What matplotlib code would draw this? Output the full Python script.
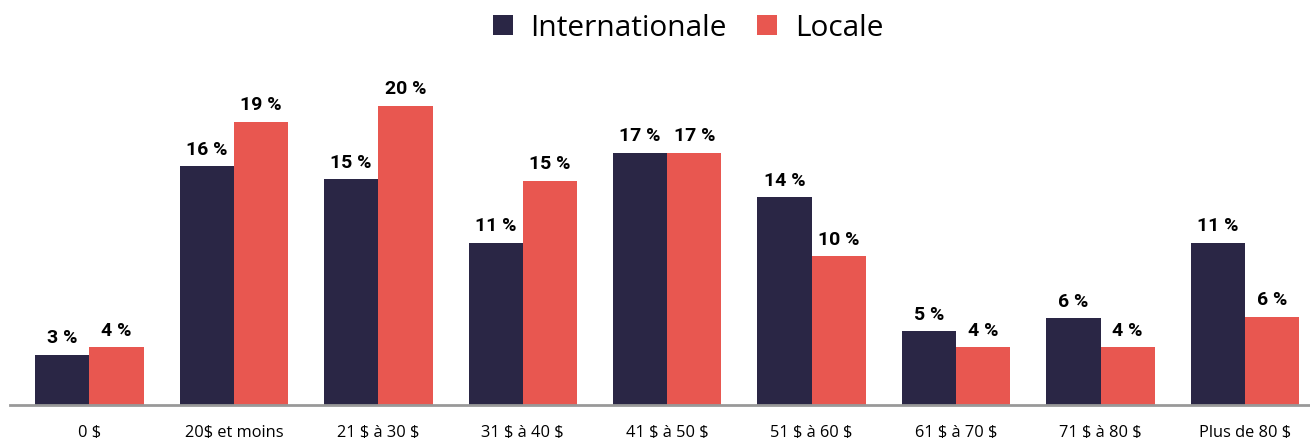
import matplotlib.pyplot as plt
import numpy as np

categories = ["0 \\$", "20\\$ et moins", "21 \\$ à 30 \\$", "31 \\$ à 40 \\$", "41 \\$ à 50 \\$",
              "51 \\$ à 60 \\$", "61 \\$ à 70 \\$", "71 \\$ à 80 \\$", "Plus de 80 \\$"]
internationale = [3.4, 16.2, 15.3, 11.0, 17.1, 14.1, 5.0, 5.9, 11.0]
locale = [3.9, 19.2, 20.3, 15.2, 17.1, 10.1, 3.9, 3.9, 6.0]

dark = "#2a2645"
red = "#e85750"
plt.rcParams['font.family'] = ['Open Sans', 'DejaVu Sans']

fig = plt.figure(figsize=(13.1, 4.38), dpi=100)
ax = fig.add_axes([10 / 1310, 33 / 438, 1300 / 1310, 345 / 438])

x = np.arange(len(categories))
w = 0.375
b1 = ax.bar(x - w / 2, internationale, w, color=dark, label="Internationale")
b2 = ax.bar(x + w / 2, locale, w, color=red, label="Locale")

for bars, vals in ((b1, internationale), (b2, locale)):
    for rect, v in zip(bars, vals):
        ax.text(rect.get_x() + rect.get_width() / 2, v + 0.5, f"{v:.0f} %",
                ha="center", va="bottom", fontsize=14, fontweight="bold",
                family=["Roboto", "DejaVu Sans"], color="black")

ax.set_xlim(-0.55, 8.45)
ax.set_ylim(0, 23.39)
ax.set_xticks(x)
ax.set_xticklabels(categories, fontsize=11.8)
ax.tick_params(axis="x", length=0, pad=14)
ax.set_yticks([])
for s in ("top", "right", "left"):
    ax.spines[s].set_visible(False)
ax.spines["bottom"].set_color("#999999")
ax.spines["bottom"].set_linewidth(2)

fig.legend(handles=[b1, b2], loc="center", bbox_to_anchor=(688 / 1310, 1 - 28 / 438),
           ncol=2, frameon=False, fontsize=21.5, handlelength=0.67, handleheight=0.67,
           handletextpad=0.6, columnspacing=1.0)

fig.savefig("out.png", dpi=100)
